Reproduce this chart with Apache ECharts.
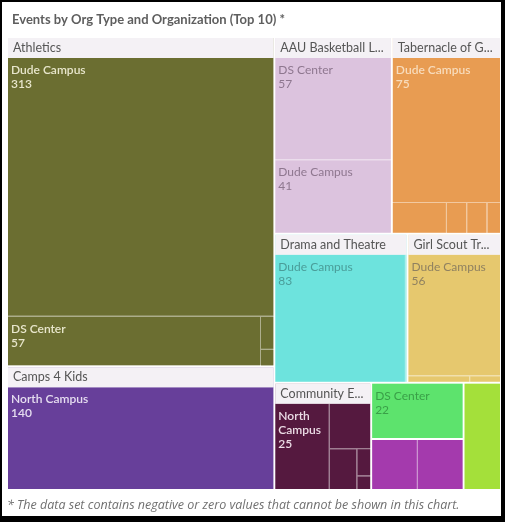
<!DOCTYPE html>
<html><head><meta charset="utf-8">
<script src="https://cdn.jsdelivr.net/npm/echarts@6/dist/echarts.min.js"></script>
<style>
html,body{margin:0;padding:0;background:#000;width:505px;height:522px;overflow:hidden}
#panel{position:absolute;left:2px;top:2px;width:499px;height:514px;background:#fff}
#chart{width:499px;height:514px}
</style></head><body><div id="panel"><div id="chart"></div></div>
<script>
// ---- data ----
const orgs = ["Athletics","Camps 4 Kids","AAU Basketball L...","Tabernacle of G...","Drama and Theatre","Girl Scout Tr...","Community E...","Org 8","Org 9","Org 10"];
const showHeader = [true,true,true,true,true,true,true,false,false,false];
const sites = [
  ["Dude Campus","DS Center","Other","Other"],
  ["North Campus"],
  ["DS Center","Dude Campus"],
  ["Dude Campus","Other","Other","Other","Other"],
  ["Dude Campus","Other"],
  ["Dude Campus","Other","Other"],
  ["North Campus","Other","Other","Other","Other"],
  ["DS Center"],
  ["Other","Other"],
  ["Other"]
];
const events = [
  [313,57,2,1],
  [140],
  [57,41],
  [75,8,3,3,2],
  [83,1],
  [56,2,1],
  [25,10,6,2,1],
  [22],
  [10,10],
  [17]
];
// ---- styles ----
const colors = ['#6b6e31','#673f9a','#dcc3de','#e89c52','#6de3dd','#e6c86e','#55193f','#5de36d','#a43aad','#a4e03a'];
const labelColors = ['#e8e6cc','#e6def0','#8e778f','#f8dcbc','#4a9d99','#8f8160','#ecdde6','#3aa048','#f3e0f4','#4f6a1c'];
const darkTile = [true,true,false,true,false,false,true,false,true,false];
const MIN_LABEL_VALUE = 20;
const FONT = 'Lato, "Noto Sans", sans-serif';

function tint(hex, t) {
  const n = parseInt(hex.slice(1), 16);
  const r = (n >> 16) & 255, g = (n >> 8) & 255, b = n & 255;
  const m = c => Math.round(c + (255 - c) * t);
  return 'rgb(' + m(r) + ',' + m(g) + ',' + m(b) + ')';
}

const treeData = orgs.map((org, i) => ({
  name: org,
  itemStyle: { color: colors[i], borderColor: tint(colors[i], 0.45) },
  upperLabel: showHeader[i] ? undefined : { show: false, height: 0 },
  children: sites[i].map((s, j) => ({
    name: s,
    value: events[i][j],
    itemStyle: { color: colors[i] },
    label: {
      show: events[i][j] >= MIN_LABEL_VALUE,
      color: labelColors[i],
      fontWeight: darkTile[i] ? 600 : 'normal'
    }
  }))
}));

const chart = echarts.init(document.getElementById('chart'), null, { renderer: 'canvas' });
chart.setOption({
  animation: false,
  title: {
    text: 'Events by Org Type and Organization (Top 10) *',
    left: 5, top: 6,
    textStyle: { fontFamily: FONT, fontSize: 13, fontWeight: 'bold', color: '#5e5e5e' }
  },
  graphic: [{
    type: 'text', left: 5, top: 497,
    style: {
      text: '* The data set contains negative or zero values that cannot be shown in this chart.',
      font: 'italic 12.5px "Open Sans", sans-serif', fill: '#707070'
    }
  }],
  series: [{
    type: 'treemap',
    left: 6, top: 36, width: 492, height: 451,
    roam: false, nodeClick: false,
    squareRatio: 1,
    breadcrumb: { show: false },
    visibleMin: 1,
    data: treeData,
    label: {
      show: true, position: 'insideTopLeft', formatter: '{b}\n{c}',
      fontFamily: FONT, fontSize: 12, lineHeight: 14,
      padding: [5, 3, 0, 3], overflow: 'break'
    },
    upperLabel: {
      show: true, height: 20, color: '#555555', fontFamily: FONT, fontSize: 12.5,
      padding: [0, 0, 0, 5], backgroundColor: '#f4f1f5', verticalAlign: 'middle'
    },
    levels: [
      { itemStyle: { borderWidth: 0, gapWidth: 2, borderColor: '#ffffff' }, upperLabel: { show: false, height: 0 } },
      { itemStyle: { borderWidth: 0, gapWidth: 1 } },
      { itemStyle: { borderWidth: 0, gapWidth: 0 } }
    ]
  }]
});
</script></body></html>
